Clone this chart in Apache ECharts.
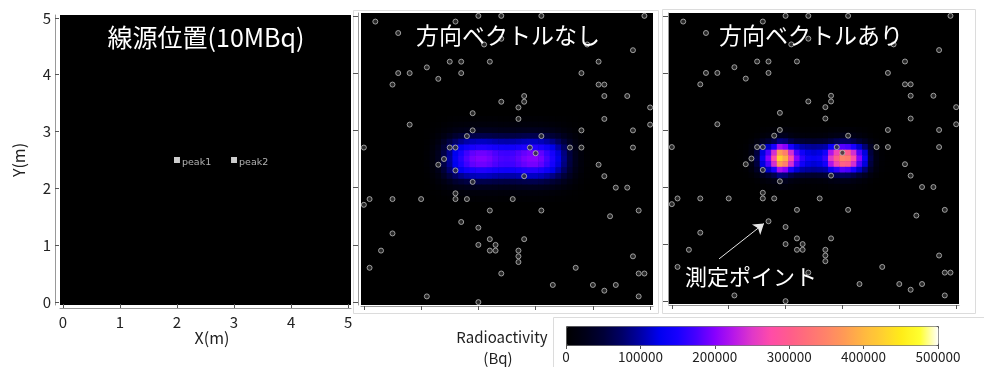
<!DOCTYPE html>
<html><head><meta charset="utf-8">
<script src="https://cdn.jsdelivr.net/npm/echarts@6/dist/echarts.min.js"></script>
<style>html,body{margin:0;padding:0;background:#fff}#c{width:984px;height:367px}</style>
</head><body><div id="c"></div>
<script>
// ---------- data ----------
const tickLabels = ['0', '1', '2', '3', '4', '5'];
const colorbarTicks = [0, 100000, 200000, 300000, 400000, 500000];
const peakNames = ['peak1', 'peak2'];
const peakX = [2.0, 3.0];
const peakY = [2.5, 2.5];

// measurement points (m)
const measX = [2.0,2.4,3.1,4.9,0.2,1.6,0.6,2.4,2.1,3.9,4.7,1.5,1.7,2.2,4.1,1.1,0.6,0.8,1.7,3.8,1.3,0.5,4.1,4.2,2.8,4.2,4.6,2.4,2.8,2.7,5.0,1.9,2.7,4.2,0.8,5.0,1.9,3.8,4.7,1.8,3.1,0.0,1.5,1.6,2.9,3.6,3.8,4.7,3.0,1.4,1.3,4.1,1.6,2.8,4.2,1.9,4.4,4.6,1.6,0.1,0.5,1.0,1.6,1.8,2.6,0.0,2.2,3.1,4.8,4.3,1.7,2.0,0.5,2.2,2.8,2.0,2.3,0.3,2.2,2.3,2.7,2.7,4.7,2.7,0.1,3.7,2.4,4.8,4.9,3.3,4.0,4.4,4.2,1.1,4.8,2.0];
const measY = [5.0,5.0,5.0,5.0,4.9,4.9,4.7,4.6,4.5,4.5,4.4,4.2,4.2,4.2,4.2,4.1,4.0,4.0,4.0,4.0,3.9,3.8,3.8,3.8,3.6,3.6,3.6,3.5,3.5,3.4,3.4,3.3,3.2,3.2,3.1,3.1,3.0,3.0,3.0,2.9,2.9,2.7,2.7,2.7,2.7,2.7,2.7,2.7,2.6,2.5,2.4,2.4,2.3,2.2,2.2,2.1,2.0,2.0,1.9,1.8,1.8,1.8,1.8,1.8,1.8,1.7,1.6,1.6,1.6,1.5,1.4,1.3,1.2,1.1,1.1,1.0,1.0,0.9,0.9,0.9,0.9,0.8,0.8,0.7,0.6,0.6,0.5,0.5,0.5,0.3,0.3,0.3,0.2,0.1,0.1,0.0];

// heatmap columns x = 1.1 ... 3.9 (step 0.1), values in kBq
const heatColStart = 1.1;
// "方向ベクトルなし" rows from y=3.2 down to y=1.8
const noVecRowY = [3.2,3.1,3.0,2.9,2.8,2.7,2.6,2.5,2.4,2.3,2.2,2.1,2.0,1.9,1.8];
const noVecRows = [
  [0,0,1,1,2,3,3,3,4,4,4,4,4,3,3,3,4,4,4,4,4,3,3,2,2,1,1,0,0],
  [0,1,2,4,6,8,9,10,11,11,11,11,11,10,10,10,11,11,11,11,11,10,9,7,5,3,2,1,0],
  [1,2,5,9,14,20,23,26,27,28,28,28,27,26,26,26,27,28,29,29,28,26,23,18,13,8,4,2,0],
  [1,4,10,19,30,42,50,55,59,60,60,59,57,56,55,56,58,60,61,61,59,54,48,39,28,18,9,4,1],
  [2,7,17,35,55,75,90,100,106,109,109,107,103,101,100,101,104,108,110,110,107,99,87,71,51,32,16,6,2],
  [3,10,25,49,78,107,127,141,150,154,154,151,146,143,141,143,148,153,156,156,151,139,123,100,72,45,23,9,2],
  [4,12,29,58,91,125,150,170,184,190,190,185,176,170,168,170,178,186,192,192,184,166,146,117,84,53,27,11,3],
  [4,12,30,60,95,130,156,178,192,198,198,192,182,176,174,176,184,194,200,200,192,174,152,122,88,55,28,11,3],
  [4,12,29,58,91,125,150,170,184,190,190,185,176,170,168,170,178,186,192,192,184,166,146,117,84,53,27,11,3],
  [3,10,25,49,78,107,127,141,150,154,154,151,146,143,141,143,148,153,156,156,151,139,123,100,72,45,23,9,2],
  [2,7,17,35,55,75,90,100,106,109,109,107,103,101,100,101,104,108,110,110,107,99,87,71,51,32,16,6,2],
  [1,4,10,19,30,42,50,55,59,60,60,59,57,56,55,56,58,60,61,61,59,54,48,39,28,18,9,4,1],
  [1,2,5,9,14,20,23,26,27,28,28,28,27,26,26,26,27,28,29,29,28,26,23,18,13,8,4,2,0],
  [0,1,2,4,6,8,9,10,11,11,11,11,11,10,10,10,11,11,11,11,11,10,9,7,5,3,2,1,0],
  [0,0,1,1,2,3,3,3,4,4,4,4,4,3,3,3,4,4,4,4,4,3,3,2,2,1,1,0,0]
];
// "方向ベクトルあり" rows from y=3.0 down to y=2.0
const vecRowY = [3.0,2.9,2.8,2.7,2.6,2.5,2.4,2.3,2.2,2.1,2.0];
const vecRows = [
  [0,0,0,0,1,3,4,6,9,8,6,4,3,3,3,3,3,5,6,7,7,6,4,3,1,0,0,0,0],
  [0,0,0,1,4,9,14,19,30,27,19,14,11,10,9,10,12,18,21,25,24,19,14,9,4,1,0,0,0],
  [0,0,1,5,15,32,45,60,85,80,60,48,45,42,40,42,45,55,65,72,70,60,46,32,15,5,1,0,0],
  [0,1,3,12,35,80,110,150,215,200,150,115,100,95,92,95,100,135,160,180,175,150,112,80,35,12,3,1,0],
  [0,1,4,18,53,119,176,242,374,343,242,176,141,121,116,121,145,220,264,308,299,242,176,119,53,18,4,1,0],
  [0,1,5,20,60,135,200,275,425,390,275,200,160,138,132,138,165,250,300,350,340,275,200,135,60,20,5,1,0],
  [0,1,4,18,53,119,176,242,374,343,242,176,141,121,116,121,145,220,264,308,299,242,176,119,53,18,4,1,0],
  [0,1,3,12,35,80,110,150,215,200,150,115,100,95,92,95,100,135,160,180,175,150,112,80,35,12,3,1,0],
  [0,0,1,5,15,32,45,60,85,80,60,48,45,42,40,42,45,55,65,72,70,60,46,32,15,5,1,0,0],
  [0,0,0,1,4,9,14,19,30,27,19,14,11,10,9,10,12,18,21,25,24,19,14,9,4,1,0,0,0],
  [0,0,0,0,1,3,4,6,9,8,6,4,3,3,3,3,3,5,6,7,7,6,4,3,1,0,0,0,0]
];
// annotation arrow (m)
const arrowFrom = [0.83, 0.74];
const arrowTo = [1.62, 1.36];

// ---------- build ----------
const cellLabels = [];
for (let i = 0; i <= 50; i++) cellLabels.push((i / 10).toFixed(1));
function buildHeat(rowsY, rows) {
  const out = [];
  rows.forEach((row, r) => {
    const yi = Math.round(rowsY[r] * 10);
    row.forEach((v, c) => {
      const xi = Math.round(heatColStart * 10) + c;
      out.push([xi, yi, v * 1000]);
    });
  });
  return out;
}
const measData = measX.map((x, i) => [x, measY[i]]);
const peakData = peakX.map((x, i) => ({ value: [x, peakY[i]], name: peakNames[i] }));

const tickInt = (idx) => idx % 10 === 0;
const FONT = '"Noto Sans CJK JP", "Noto Sans", sans-serif';

function catX(gi, showLabels, offset, inside, len) {
  return {
    type: 'category', gridIndex: gi, data: cellLabels, position: 'bottom', offset: offset,
    axisLine: { show: true, lineStyle: { color: '#999', width: 1 } },
    axisTick: { show: true, inside: inside, length: len, alignWithLabel: true, interval: tickInt, lineStyle: { color: '#555' } },
    axisLabel: { show: showLabels, interval: tickInt, formatter: (v, i) => tickLabels[i / 10], fontSize: 15, color: '#222', margin: 7, fontFamily: FONT },
    splitLine: { show: false }
  };
}
function catY(gi, showLabels, offset, inside, len) {
  return {
    type: 'category', gridIndex: gi, data: cellLabels, position: 'left', offset: offset,
    axisLine: { show: true, lineStyle: { color: '#999', width: 1 } },
    axisTick: { show: true, inside: inside, length: len, alignWithLabel: true, interval: tickInt, lineStyle: { color: '#555' } },
    axisLabel: { show: showLabels, interval: tickInt, formatter: (v, i) => tickLabels[i / 10], fontSize: 15, color: '#222', margin: 4, fontFamily: FONT },
    splitLine: { show: false }
  };
}
function valHidden(gi) {
  return { type: 'value', gridIndex: gi, min: -0.05, max: 5.05, show: false, splitLine: { show: false } };
}

const panels = [
  { left: 60, top: 15, width: 291, height: 290 },
  { left: 361, top: 13, width: 292, height: 292 },
  { left: 669, top: 13, width: 290, height: 291 }
];
const grids = [];
panels.forEach(p => {
  grids.push(Object.assign({ show: true, backgroundColor: '#000', borderWidth: 0, containLabel: false }, p));
  grids.push(Object.assign({ show: false, containLabel: false }, p));
});
grids.push({ left: 566, top: 326, width: 372, height: 19, show: false, containLabel: false });

const option = {
  animation: false,
  backgroundColor: '#fff',
  grid: grids,
  xAxis: [
    catX(0, true, 3, true, 4), valHidden(1),
    catX(2, false, 1, false, 4), valHidden(3),
    catX(4, false, 1, false, 4), valHidden(5),
    { type: 'value', gridIndex: 6, min: 0, max: 500000, interval: 100000, position: 'bottom',
      axisLine: { show: false }, splitLine: { show: false },
      axisTick: { show: true, length: 4, lineStyle: { color: '#555' } },
      axisLabel: { fontSize: 13.5, color: '#222', margin: 5, fontFamily: FONT, formatter: v => String(v) } }
  ],
  yAxis: [
    catY(0, true, 5, true, 4), valHidden(1),
    catY(2, false, 3, false, 5), valHidden(3),
    catY(4, false, 1, false, 5), valHidden(5),
    { type: 'value', gridIndex: 6, show: false }
  ],
  visualMap: {
    type: 'continuous', min: 0, max: 500000, seriesIndex: [0, 1], orient: 'horizontal',
    left: 566, top: 326, itemWidth: 19, itemHeight: 372, calculable: false, hoverLink: false,
    padding: 0, borderColor: '#555', borderWidth: 1, text: null, showLabel: false,
    inRange: { color: ['#000000','#000018','#000038','#000068','#0000a8','#0000f0','#1800ff','#4800ff','#8800ff','#b818e8','#e038c8','#ff4ca8','#ff5c8c','#ff7078','#ff8468','#ff9c54','#ffb840','#ffd030','#ffec18','#ffff30','#ffffff'] }
  },
  series: [
    { type: 'heatmap', xAxisIndex: 2, yAxisIndex: 2, data: buildHeat(noVecRowY, noVecRows), itemStyle: { borderWidth: 0 }, emphasis: { disabled: true }, progressive: 0 },
    { type: 'heatmap', xAxisIndex: 4, yAxisIndex: 4, data: buildHeat(vecRowY, vecRows), itemStyle: { borderWidth: 0 }, emphasis: { disabled: true }, progressive: 0 },
    { type: 'scatter', xAxisIndex: 3, yAxisIndex: 3, data: measData, symbol: 'circle', symbolSize: 5,
      itemStyle: { color: '#333', borderColor: '#bdbdbd', borderWidth: 1 }, emphasis: { disabled: true }, z: 5 },
    { type: 'scatter', xAxisIndex: 5, yAxisIndex: 5, data: measData, symbol: 'circle', symbolSize: 5,
      itemStyle: { color: '#333', borderColor: '#bdbdbd', borderWidth: 1 }, emphasis: { disabled: true }, z: 5,
      markLine: { silent: true, symbol: ['none', 'arrow'], symbolSize: 10, animation: false,
        lineStyle: { color: '#e6e6e6', width: 1, type: 'solid' }, label: { show: false },
        emphasis: { disabled: true },
        data: [[{ coord: arrowFrom }, { coord: arrowTo }]] } },
    { type: 'scatter', xAxisIndex: 1, yAxisIndex: 1, data: peakData, symbol: 'rect', symbolSize: 6,
      itemStyle: { color: '#fff' }, emphasis: { disabled: true }, z: 5,
      label: { show: true, position: 'right', distance: 2, offset: [0, 3], formatter: p => p.name, color: '#ddd', fontSize: 9.5, fontFamily: '"DejaVu Sans", sans-serif' } }
  ],
  graphic: [
    { type: 'rect', shape: { x: 353.5, y: 10.5, width: 305, height: 303 }, style: { fill: 'none', stroke: '#dcdcdc', lineWidth: 1 }, z: 0, silent: true },
    { type: 'rect', shape: { x: 662.5, y: 9.5, width: 313, height: 304 }, style: { fill: 'none', stroke: '#dcdcdc', lineWidth: 1 }, z: 0, silent: true },
    { type: 'rect', shape: { x: 553.5, y: 317.5, width: 440, height: 60 }, style: { fill: 'none', stroke: '#dcdcdc', lineWidth: 1 }, z: 0, silent: true },
    { type: 'text', x: 206, y: 37, z: 100, silent: true, style: { text: '線源位置(10MBq)', fill: '#fff', font: '25px ' + FONT, textAlign: 'center', textVerticalAlign: 'middle' } },
    { type: 'text', x: 508, y: 35, z: 100, silent: true, style: { text: '方向ベクトルなし', fill: '#fff', font: '23px ' + FONT, textAlign: 'center', textVerticalAlign: 'middle' } },
    { type: 'text', x: 811, y: 35, z: 100, silent: true, style: { text: '方向ベクトルあり', fill: '#fff', font: '23px ' + FONT, textAlign: 'center', textVerticalAlign: 'middle' } },
    { type: 'text', x: 751, y: 277, z: 100, silent: true, style: { text: '測定ポイント', fill: '#fff', font: '22px ' + FONT, textAlign: 'center', textVerticalAlign: 'middle' } },
    { type: 'text', x: 212, y: 338, z: 100, silent: true, style: { text: 'X(m)', fill: '#222', font: '16px ' + FONT, textAlign: 'center', textVerticalAlign: 'middle' } },
    { type: 'text', x: 19, y: 160, rotation: Math.PI / 2, z: 100, silent: true, style: { text: 'Y(m)', fill: '#222', font: '16px ' + FONT, textAlign: 'center', textVerticalAlign: 'middle' } },
    { type: 'text', x: 502, y: 337, z: 100, silent: true, style: { text: 'Radioactivity', fill: '#222', font: '15px ' + FONT, textAlign: 'center', textVerticalAlign: 'middle' } },
    { type: 'text', x: 498, y: 358, z: 100, silent: true, style: { text: '(Bq)', fill: '#222', font: '15px ' + FONT, textAlign: 'center', textVerticalAlign: 'middle' } }
  ]
};
const chart = echarts.init(document.getElementById('c'), null, { renderer: 'canvas' });
chart.setOption(option);
</script>
</body></html>
